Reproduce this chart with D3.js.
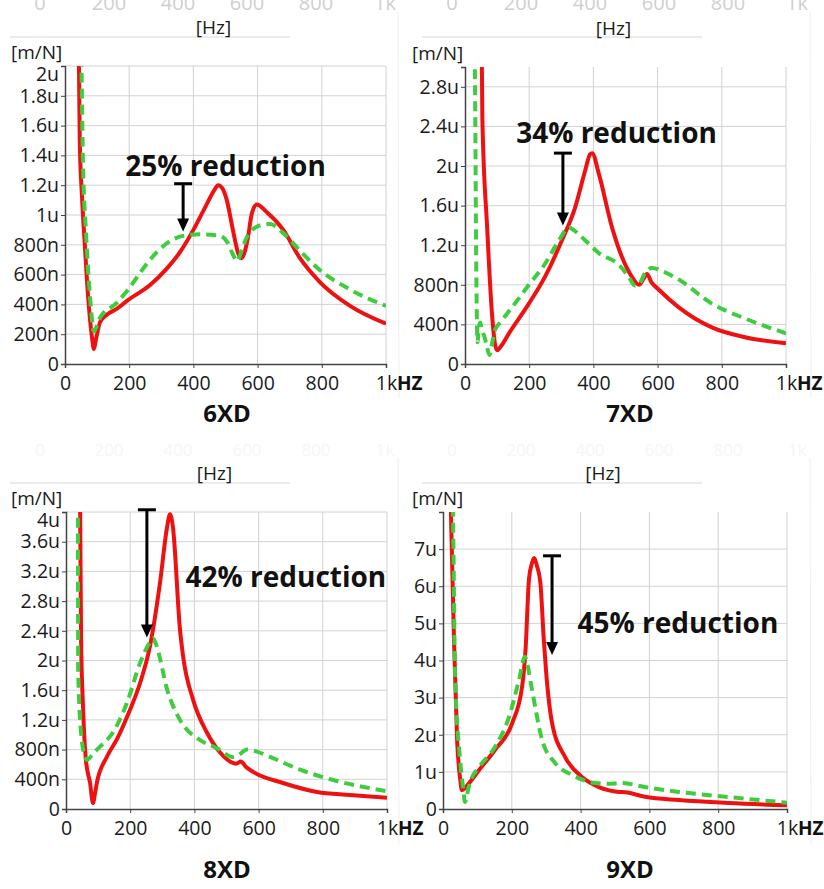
<!DOCTYPE html>
<html>
<head>
<meta charset="utf-8">
<script src="https://cdnjs.cloudflare.com/ajax/libs/d3/7.8.5/d3.min.js"></script>
<style>
  body { margin: 0; background: #fff; }
  text { font-family: "Open Sans", sans-serif; }
</style>
</head>
<body>
<div id="chart"></div>
<script>
// frequency ticks [Hz]
var freqTicks = [0, 200, 400, 600, 800, 1000];

// receptance curves, [frequency Hz, amplitude in u m/N]
var red6XD = [[40,2.6],[44,1.9],[46,1.5],[53,1.12],[62,0.79],[72,0.45],[84,0.18],[90,0.10],[96,0.16],[109,0.28],[130,0.33],[161,0.37],[197,0.43],[265,0.53],[317,0.64],[358,0.75],[400,0.90],[441,1.07],[466,1.17],[477,1.20],[490,1.18],[504,1.10],[523,0.90],[540,0.74],[548,0.71],[558,0.74],[570,0.85],[582,1.01],[597,1.07],[628,1.02],[680,0.90],[732,0.71],[794,0.55],[888,0.39],[1000,0.27]];
var green6XD = [[48,2.6],[52,1.9],[56,1.35],[65,0.9],[78,0.45],[90,0.22],[100,0.26],[109,0.31],[161,0.41],[197,0.50],[230,0.60],[265,0.70],[317,0.81],[368,0.86],[420,0.87],[483,0.86],[505,0.82],[522,0.74],[536,0.69],[550,0.76],[566,0.85],[607,0.93],[639,0.94],[679,0.88],[732,0.76],[794,0.63],[888,0.50],[1000,0.39]];

var red7XD = [[50,3.3],[53,2.9],[54,2.5],[69,1.38],[84,0.51],[93,0.21],[100,0.14],[110,0.17],[137,0.31],[199,0.61],[249,0.88],[302,1.25],[343,1.58],[374,1.95],[390,2.12],[396,2.13],[417,1.92],[458,1.38],[489,1.08],[520,0.88],[542,0.80],[556,0.86],[567,0.91],[580,0.83],[604,0.75],[667,0.57],[769,0.37],[872,0.27],[1000,0.21]];
var green7XD = [[29,3.3],[31,2.9],[35,1.0],[37,0.45],[39,0.22],[43,0.38],[48,0.42],[53,0.34],[60,0.28],[68,0.18],[76,0.09],[84,0.2],[93,0.34],[110,0.42],[146,0.57],[199,0.80],[249,1.01],[293,1.25],[324,1.38],[340,1.35],[374,1.25],[417,1.12],[480,1.00],[510,0.88],[530,0.79],[545,0.82],[561,0.92],[583,0.97],[620,0.93],[667,0.85],[769,0.61],[872,0.46],[1000,0.31]];

var red8XD = [[42,5],[44,4.1],[47,2.28],[53,1.38],[62,0.66],[75,0.35],[84,0.08],[90,0.2],[96,0.35],[127,0.70],[160,0.95],[190,1.24],[231,1.70],[262,2.2],[293,3.05],[315,3.8],[324,3.97],[333,3.8],[355,2.42],[365,2.05],[396,1.47],[439,1.03],[480,0.76],[520,0.62],[530,0.61],[545,0.64],[560,0.57],[583,0.50],[676,0.35],[782,0.23],[885,0.19],[1000,0.15]];
var green8XD = [[35,5],[37,4.1],[38,1.84],[49,0.93],[60,0.70],[65,0.66],[85,0.75],[106,0.84],[146,1.03],[190,1.43],[231,1.97],[262,2.25],[271,2.30],[282,2.2],[315,1.61],[355,1.20],[417,0.93],[470,0.82],[520,0.70],[535,0.72],[564,0.80],[590,0.78],[626,0.72],[729,0.53],[832,0.39],[1000,0.24]];

var red9XD = [[21,9],[23,8],[32,4.56],[41,1.86],[50,0.8],[55,0.51],[62,0.55],[76,0.7],[105,1.05],[151,1.59],[201,2.31],[230,3.3],[240,4.3],[250,6.2],[258,6.6],[265,6.76],[273,6.55],[283,6.1],[293,4.56],[300,3.67],[317,2.32],[355,1.40],[404,0.86],[453,0.59],[512,0.46],[530,0.45],[587,0.33],[686,0.24],[831,0.16],[1000,0.10]];
var green9XD = [[27,9],[29,8],[35,3.67],[49,1.40],[58,0.6],[64,0.19],[70,0.4],[78,0.70],[105,1.13],[151,1.67],[192,2.48],[221,3.48],[238,4.1],[245,3.9],[259,3.2],[288,1.86],[326,1.24],[375,0.92],[442,0.70],[480,0.68],[520,0.70],[587,0.59],[686,0.46],[831,0.32],[1000,0.17]];

var panelNames = ["6XD", "7XD", "8XD", "9XD"];
var reductionLabels = ["25% reduction", "34% reduction", "42% reduction", "45% reduction"];
var yMaxima = [2, 3, 4, 8];
var yTickValues = [
  d3.range(0, 11).map(function (i) { return i * 0.2; }),
  d3.range(0, 8).map(function (i) { return i * 0.4; }),
  d3.range(0, 11).map(function (i) { return i * 0.4; }),
  d3.range(0, 8)
];
var redSeries = [red6XD, red7XD, red8XD, red9XD];
var greenSeries = [green6XD, green7XD, green8XD, green9XD];

// layout of the four panels (pixels) and annotation anchors (data units)
var panels = [
  { x0: 0,   y0: 0,   left: 65,  right: 386, top: 66,  bottom: 364, topGrid: true,
    arrow: { f: 368, from: 1.21, to: 0.89 }, note: { f: 500, v: 1.26 } },
  { x0: 412, y0: 0,   left: 465, right: 786, top: 67,  bottom: 364, topGrid: false,
    arrow: { f: 305, from: 2.13, to: 1.40 }, note: { f: 472, v: 2.23 } },
  { x0: 0,   y0: 446, left: 66,  right: 387, top: 512, bottom: 809, topGrid: true,
    arrow: { f: 252, from: 4.03, to: 2.31 }, note: { f: 685, v: 2.99 } },
  { x0: 412, y0: 446, left: 443, right: 787, top: 512, bottom: 809, topGrid: false,
    arrow: { f: 317, from: 6.82, to: 4.15 }, note: { f: 683, v: 4.74 } }
];

var width = 824, height = 889;
var svg = d3.select("#chart").append("svg")
  .attr("width", width)
  .attr("height", height);

function fmtAmp(v) {
  var n = Math.round(v * 1000);
  if (n === 0) return "0";
  if (n < 1000) return n + "n";
  return d3.format("~g")(n / 1000) + "u";
}

function fmtFreq(f) {
  return f === 1000 ? "1k" : String(f);
}

panels.forEach(function (p, i) {
  var g = svg.append("g");
  var x = d3.scaleLinear().domain([0, 1000]).range([p.left, p.right]);
  var y = d3.scaleLinear().domain([0, yMaxima[i]]).range([p.bottom, p.top]);

  // faint leftovers of the panel above (screenshot edges)
  g.append("g").selectAll("text")
    .data(freqTicks)
    .enter().append("text")
    .attr("x", function (d) { return p.x0 + 40 + d * 0.345; })
    .attr("y", p.y0 + 10)
    .attr("text-anchor", "middle")
    .attr("fill", i < 2 ? "#cfcfcf" : "#f6f6f6")
    .style("font-size", i < 2 ? "20px" : "17px")
    .text(fmtFreq);
  g.append("line")
    .attr("x1", p.x0 + 10).attr("x2", p.x0 + 290)
    .attr("y1", p.y0 + 37).attr("y2", p.y0 + 37)
    .attr("stroke", "#ececec").attr("stroke-width", 2);
  g.append("line")
    .attr("x1", p.x0 + 398).attr("x2", p.x0 + 399)
    .attr("y1", p.y0 + 12).attr("y2", p.y0 + 398)
    .attr("stroke", "#eeeeee").attr("stroke-width", 1);

  // gridlines
  var grid = g.append("g").attr("stroke", "#d2d2d2").attr("stroke-width", 1);
  grid.selectAll(".gx")
    .data(freqTicks.slice(1))
    .enter().append("line")
    .attr("x1", function (d) { return x(d); })
    .attr("x2", function (d) { return x(d); })
    .attr("y1", p.top).attr("y2", p.bottom);
  grid.selectAll(".gy")
    .data(yTickValues[i].slice(1).filter(function (d) { return p.topGrid || d < yMaxima[i] - 1e-9; }))
    .enter().append("line")
    .attr("x1", p.left).attr("x2", p.right)
    .attr("y1", function (d) { return y(d); })
    .attr("y2", function (d) { return y(d); });

  // axes
  var yAxis = g.append("g")
    .attr("transform", "translate(" + p.left + ",0)")
    .call(d3.axisLeft(y).tickValues(yTickValues[i]).tickSize(4).tickPadding(2).tickFormat(fmtAmp));
  var xAxis = g.append("g")
    .attr("transform", "translate(0," + p.bottom + ")")
    .call(d3.axisBottom(x).tickValues(freqTicks).tickSize(4).tickPadding(3).tickFormat(fmtFreq));
  [xAxis, yAxis].forEach(function (ax) {
    ax.select(".domain").attr("stroke", "#444").attr("stroke-width", 1.5);
    ax.selectAll(".tick line").attr("stroke", "#444");
    ax.selectAll(".tick text")
      .attr("fill", "#1a1a1a")
      .style("font-family", "'Open Sans', sans-serif")
      .style("font-size", "19.5px");
  });
  // top value label is pushed down inside the frame
  yAxis.selectAll(".tick text")
    .filter(function (d) { return Math.abs(d - yMaxima[i]) < 1e-9; })
    .attr("dy", "0.75em");
  xAxis.selectAll(".tick text").attr("y", 0).attr("dy", "26px");

  g.append("text")
    .attr("x", p.right + 11)
    .attr("y", p.bottom + 26)
    .attr("fill", "#111")
    .style("font-size", "19px")
    .style("font-weight", "bold")
    .text("HZ");

  // unit labels
  g.append("text")
    .attr("x", (p.left + p.right) / 2 - 12)
    .attr("y", p.top - 32)
    .attr("text-anchor", "middle")
    .attr("fill", "#1a1a1a")
    .style("font-size", "19px")
    .text("[Hz]");
  g.append("text")
    .attr("x", p.x0 + (i % 2 === 0 ? 11 : 0))
    .attr("y", p.top - 7)
    .attr("fill", "#1a1a1a")
    .style("font-size", "19px")
    .text("[m/N]");

  // curves
  var clipId = "clip" + i;
  svg.append("clipPath").attr("id", clipId)
    .append("rect")
    .attr("x", p.left).attr("y", p.top)
    .attr("width", p.right - p.left).attr("height", p.bottom - p.top);

  var line = d3.line()
    .x(function (d) { return x(d[0]); })
    .y(function (d) { return y(d[1]); })
    .curve(d3.curveMonotoneX);

  var curves = g.append("g").attr("clip-path", "url(#" + clipId + ")");
  curves.append("path")
    .datum(redSeries[i])
    .attr("d", line)
    .attr("fill", "none")
    .attr("stroke", "#ee1111")
    .attr("stroke-width", 4)
    .attr("stroke-linejoin", "round");
  curves.append("path")
    .datum(greenSeries[i])
    .attr("d", line)
    .attr("fill", "none")
    .attr("stroke", "#3fcc3f")
    .attr("stroke-width", 4)
    .attr("stroke-dasharray", "10,6");

  // reduction arrow
  var ax0 = x(p.arrow.f), ay0 = y(p.arrow.from), ay1 = y(p.arrow.to);
  var arrow = g.append("g").attr("fill", "#000").attr("stroke", "#000");
  arrow.append("line")
    .attr("x1", ax0 - 9).attr("x2", ax0 + 9)
    .attr("y1", ay0).attr("y2", ay0)
    .attr("stroke-width", 3);
  arrow.append("line")
    .attr("x1", ax0).attr("x2", ax0)
    .attr("y1", ay0).attr("y2", ay1 - 10)
    .attr("stroke-width", 3);
  arrow.append("path")
    .attr("stroke", "none")
    .attr("d", "M" + (ax0 - 6) + "," + (ay1 - 13) + "L" + (ax0 + 6) + "," + (ay1 - 13) + "L" + ax0 + "," + ay1 + "Z");

  g.append("text")
    .attr("x", x(p.note.f))
    .attr("y", y(p.note.v))
    .attr("text-anchor", "middle")
    .attr("fill", "#111")
    .style("font-size", "28px")
    .style("font-weight", "bold")
    .text(reductionLabels[i]);

  g.append("text")
    .attr("x", p.x0 + (i % 2 === 0 ? 227 : 218))
    .attr("y", p.bottom + 58 + (i < 2 ? 0 : 11))
    .attr("text-anchor", "middle")
    .attr("fill", "#111")
    .style("font-size", "24px")
    .style("font-weight", "bold")
    .text(panelNames[i]);
});
</script>
</body>
</html>
